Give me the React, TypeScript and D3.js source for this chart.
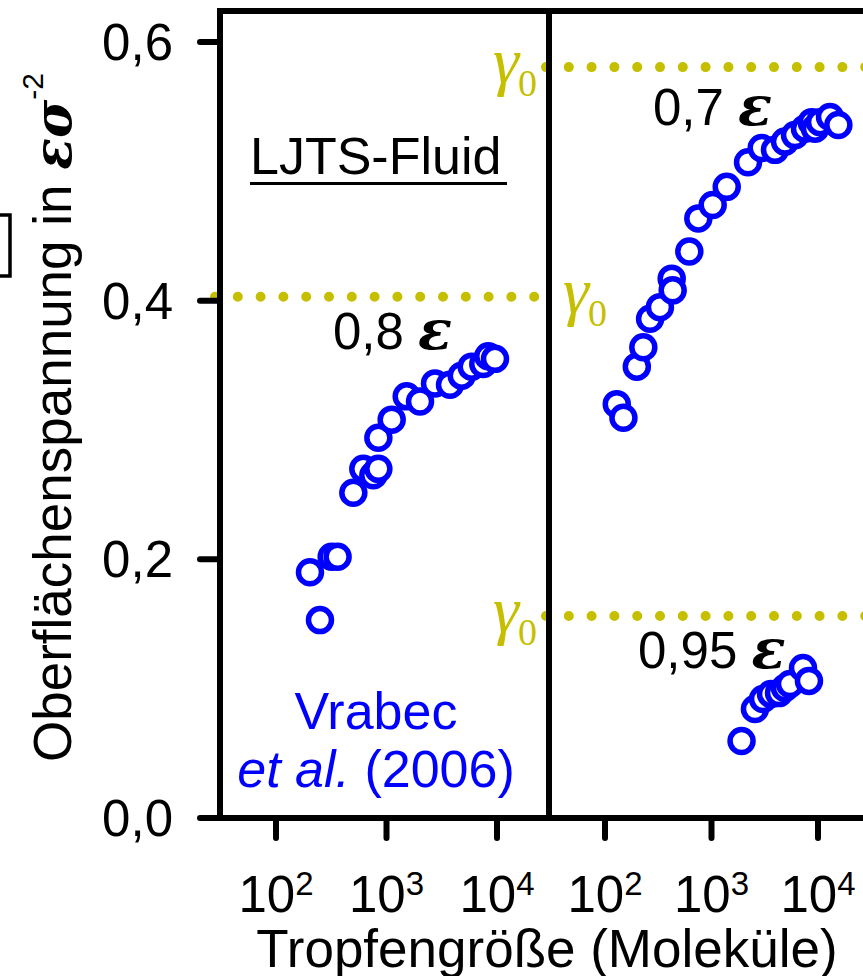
import React from 'react';
import * as d3 from 'd3';

const W = 863;
const H = 976;

// Droplet size N (molecules) and surface tension (in ε σ^-2), LJTS fluid
const sizes08 = [203, 250, 319, 361, 501, 617, 760, 844, 844, 1114, 1523, 2011, 2747, 3757, 4797, 5905, 7515, 8340, 9590];
const gamma08 = [0.19, 0.153, 0.202, 0.202, 0.2515, 0.27, 0.265, 0.27, 0.294, 0.308, 0.326, 0.322, 0.336, 0.335, 0.342, 0.349, 0.351, 0.357, 0.355];

const sizes07 = [129, 149, 199, 229, 265, 328, 423, 432, 619, 752, 1026, 1390, 2203, 2960, 3947, 4898, 6082, 7550, 8730, 9380, 10450, 12970, 15530];
const gamma07 = [0.32, 0.3095, 0.349, 0.364, 0.386, 0.395, 0.417, 0.408, 0.438, 0.4636, 0.474, 0.488, 0.507, 0.518, 0.5166, 0.523, 0.528, 0.533, 0.538, 0.533, 0.538, 0.542, 0.5358];

const sizes095 = [1915, 2558, 3048, 3623, 4307, 4898, 5459, 7230, 8225];
const gamma095 = [0.0595, 0.0843, 0.092, 0.0959, 0.0966, 0.1005, 0.1036, 0.116, 0.106];

// planar-interface surface tension γ0 for each temperature
const gamma0_08 = 0.403;
const gamma0_07 = 0.5806;
const gamma0_095 = 0.1562;

const yTicks = [0, 0.2, 0.4, 0.6];
const yTickLabels = ['0,0', '0,2', '0,4', '0,6'];
const xTicks = [1e2, 1e3, 1e4];
const xTickExps = ['2', '3', '4'];

const BLUE = '#0000ff';
const OLIVE = '#c6bf00';
const SANS = '"Liberation Sans", Arial, sans-serif';
const SERIF = '"Liberation Serif", "Times New Roman", serif';
const GREEK = '"DejaVu Serif", "Liberation Serif", serif';

export default function App() {
  const y = d3.scaleLinear().domain([0, 0.6]).range([818, 42]);
  const xL = d3.scaleLog().domain([1e2, 1e4]).range([276, 497]);
  const xR = d3.scaleLog().domain([1e2, 1e4]).range([605, 818]);

  const top = y(0.624);
  const left = 220;
  const mid = 549;
  const right = 870;
  const base = y(0);

  const dotted = { stroke: OLIVE, strokeWidth: 10, strokeLinecap: 'round' as const, strokeDasharray: '0 22.8', fill: 'none' };

  const pts = (xs: number[], ys: number[], sx: d3.ScaleLogarithmic<number, number>) =>
    xs.map((n, i) => ({ n, g: ys[i], sx })).sort((a, b) => a.n - b.n);

  const allPts = [
    ...pts(sizes08, gamma08, xL),
    ...pts(sizes07, gamma07, xR),
    ...pts(sizes095, gamma095, xR),
  ];

  const gammaLabel = (x: number, g: number) => (
    <text x={x} y={y(g) + 16} fill={OLIVE} fontFamily={SERIF} fontStyle="italic" fontSize={66}>
      γ<tspan fontStyle="normal" fontSize={38} dx={-1} dy={13}>0</tspan>
    </text>
  );

  const epsLabel = (x: number, yy: number, s: string) => (
    <text x={x} y={yy} fontFamily={SANS} fontSize={51} fill="#000">
      {s + ' '}
      <tspan fontFamily={GREEK} fontWeight="bold" fontStyle="italic" fontSize={56}>ε</tspan>
    </text>
  );

  return (
    <svg width={W} height={H} viewBox={`0 0 ${W} ${H}`} style={{ position: 'absolute', left: 0, top: 0, background: '#fff' }}>
      <rect x={0} y={0} width={W} height={H} fill="#fff" />

      {/* γ0 reference levels */}
      <line x1={215} x2={540} y1={y(gamma0_08)} y2={y(gamma0_08)} {...dotted} />
      <line x1={546} x2={right} y1={y(gamma0_07)} y2={y(gamma0_07)} {...dotted} />
      <line x1={546} x2={right} y1={y(gamma0_095)} y2={y(gamma0_095)} {...dotted} />

      {/* frame */}
      <g stroke="#000" strokeWidth={6} fill="none">
        <line x1={left} x2={left} y1={top} y2={base} />
        <line x1={mid} x2={mid} y1={top} y2={base} />
        <line x1={left - 3} x2={right} y1={top} y2={top} />
        <line x1={200} x2={right} y1={base} y2={base} />
      </g>

      {/* y ticks */}
      <g>
        {yTicks.map((t, i) => (
          <g key={t}>
            <line x1={200} x2={left} y1={y(t)} y2={y(t)} stroke="#000" strokeWidth={6} strokeLinecap="round" />
            <text x={173} y={y(t) + 18} textAnchor="end" fontFamily={SANS} fontSize={51}>{yTickLabels[i]}</text>
          </g>
        ))}
      </g>

      {/* x ticks, both panels */}
      {[xL, xR].map((sx, p) => (
        <g key={p}>
          {xTicks.map((t, i) => (
            <g key={t}>
              <line x1={sx(t)} x2={sx(t)} y1={base} y2={base + 20} stroke="#000" strokeWidth={6} strokeLinecap="round" />
              <text x={sx(t)} y={912} textAnchor="middle" fontFamily={SANS} fontSize={51}>
                10<tspan fontSize={33} dy={-17}>{xTickExps[i]}</tspan>
              </text>
            </g>
          ))}
        </g>
      ))}

      {/* data */}
      <g fill="#fff" stroke={BLUE} strokeWidth={5.5}>
        {allPts.map((d, i) => (
          <circle key={i} cx={d.sx(d.n)} cy={y(d.g)} r={11.5} />
        ))}
      </g>

      {/* γ0 labels */}
      {gammaLabel(563, gamma0_08)}
      {gammaLabel(493, gamma0_07)}
      {gammaLabel(493, gamma0_095)}

      {/* temperature labels */}
      {epsLabel(333, 349, '0,8')}
      {epsLabel(653, 125, '0,7')}
      {epsLabel(638, 668, '0,95')}

      {/* panel title */}
      <text x={250} y={174} fontFamily={SANS} fontSize={52}>LJTS-Fluid</text>
      <line x1={250} x2={507} y1={183.5} y2={183.5} stroke="#000" strokeWidth={3} />

      {/* source */}
      <text x={376} y={729} textAnchor="middle" fontFamily={SANS} fontSize={52} fill={BLUE}>Vrabec</text>
      <text x={376} y={787} textAnchor="middle" fontFamily={SANS} fontSize={52} fill={BLUE}>
        <tspan fontStyle="italic">et al.</tspan> (2006)
      </text>

      {/* axis titles */}
      <text x={547} y={967} textAnchor="middle" fontFamily={SANS} fontSize={53}>Tropfengröße (Moleküle)</text>
      <text transform="translate(71,762) rotate(-90)" fontFamily={SANS} fontSize={53}>
        Oberflächenspannung in{' '}
        <tspan fontFamily={GREEK} fontWeight="bold" fontStyle="italic" fontSize={52}>εσ</tspan>
        <tspan fontSize={30} dy={-28}>-2</tspan>
      </text>

      {/* bracket at edge */}
      <path d="M0,215 H10 V276 H0" fill="none" stroke="#000" strokeWidth={3.5} />
    </svg>
  );
}
